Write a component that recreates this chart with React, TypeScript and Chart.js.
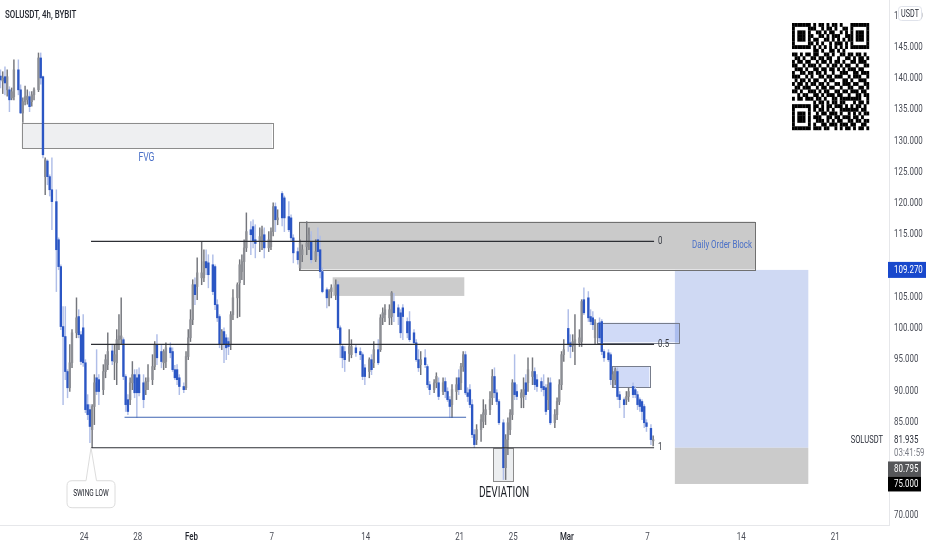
import React, { useEffect, useRef } from "react";
import Chart from "chart.js/auto";

const barSlots = [
  0,1,2,3,4,5,6,8,9,10,
  11,12,13,14,15,17,18,19,20,21,
  22,23,25,26,27,28,29,30,31,32,
  34,35,36,37,38,39,40,41,42,43,
  44,46,47,48,50,51,52,53,54,55,
  56,57,58,59,60,61,62,64,65,66,
  68,69,70,72,73,74,76,77,78,79,
  80,82,83,84,85,86,87,88,90,91,
  92,93,95,96,97,98,99,100,101,102,
  103,104,106,107,108,109,110,112,113,114,
  116,117,118,120,121,122,123,124,126,127,
  129,130,131,133,134,135,137,138,139,141,
  142,143,144,146,147,148,150,151,152,153,
  154,156,157,159,161,162,163,165,166,167,
  169,170,171,172,174,175,176,178,179,180,
  182,183,185,186,187,188,190,191,192,194,
  195,196,198,199,200,201,202,204,205,206,
  207,208,209,210,211,212,213,215,216,217,
  219,220,221,222,223,225,226,227,228,229,
  230,231,233,234,235,236,238,239,240,242,
  243,244,245,246,248,249,250,251,252,254,
  255,256,257,259,260,261,263,264,265,266,
  268,269,270,272,273,274,275,276,277,279,
  280,281,283,284,285,286,287,288,289,291,292,
];
const opens = [
  140.3,139.5,140.2,138.1,138.1,136.8,137,141.3,138.1,134.4,
  136.2,136.5,137,136.2,137.3,138.1,143.2,140.2,124.2,126.7,
  124.2,122.1,120.2,114.1,109.8,100.2,98.6,93,90.4,94.4,
  99.2,101.8,98.9,100,94.4,87.7,86.9,83.7,87.4,92,
  91.7,90.1,93,94.1,96.3,94.6,94.4,98.1,98.2,98.1,
  92.2,88.5,88.5,91.2,92.5,92,92.5,91.2,90.1,91.4,
  91.7,93.8,97.3,96.2,94.4,94.6,96.8,96.2,93.3,93.3,
  92,90.6,90.4,95.4,98.4,101.3,106.9,106.6,108,108,
  110.6,110.4,110.1,109.8,103.7,101.8,97.3,99.4,98.4,97.8,
  97.3,102.1,104.8,107.2,109,110.6,112.8,115.7,116.2,114.1,
  113.8,113.8,114.9,112.8,113,115.4,119.4,117.3,121.5,120.8,
  117.8,117.6,114.4,112.2,109.6,111.7,113,113.8,113.8,110.9,
  114.1,112.5,109,106.1,104.8,105.8,105.3,106.9,100,97,
  96.2,95.9,95.7,96.8,96.2,95.7,93.6,93,94.9,94.4,
  96.5,96.5,101.6,102.1,101.6,101.8,104.2,103.2,102.4,103.2,
  101,101,99.2,97.6,94.9,94.1,95.2,93.8,90.9,90.1,
  91.2,91.2,89.8,91.4,89.8,88.5,87.7,89.8,92,91.2,
  93.8,95.7,89.6,90.1,87.7,82.9,82.1,83.7,85,86.1,
  86.9,88.8,92.2,89.6,88.2,84.8,77.6,82.1,83.7,86.1,
  91.2,89.8,88.8,89,91.2,91.2,92.2,93,91.7,91.4,
  90.6,90.4,88.5,91.2,84.8,86.1,88.2,90.9,95.7,99.9,
  97.6,97.1,97.3,97.6,97.8,104.5,104.8,101.8,101.6,98.4,
  100.8,101,96.2,96,95.7,91.7,91.7,93,89.3,88.5,
  88.5,89,90.6,90.1,89.3,88.5,88.2,87.4,84.8,83.9,81.9,
];
const closes = [
  139.7,140,139.2,140.2,136.5,137.8,141.3,138.1,134.4,136.2,
  137,137.1,135.4,137.3,138.1,143.2,140,127.7,126.9,124.2,
  122.1,120.2,112.5,109.8,100.2,98.6,93,90.4,94.4,99.2,
  101.6,98.9,94.6,94.4,86.9,86.1,84.2,87.4,91.2,89.8,
  89.8,93,94.9,96.2,94.7,95.7,98.1,98.7,98.7,92.2,
  87.7,86.6,91.2,92.5,89.6,89.6,89.6,88.5,91.4,92,
  93.8,97.3,95.2,94.6,96.2,96.8,96,93.3,92,91.7,
  90.6,90.1,95.4,98.4,101.3,106.9,105.3,108.8,108.8,110.6,
  109.6,108.5,105.8,103.7,101.6,97.3,99.4,97.3,96.8,97,
  102.1,104.8,106.9,110.1,110.6,112.8,115.4,114.9,113.8,113.5,
  114.6,115.7,112.8,114.1,115.4,119.4,117.3,117.6,117.6,117.6,
  115.7,114.4,112,110.9,113.6,112.5,113.6,114.9,110.9,112.2,
  112.2,109,105.8,104.8,105.8,106.4,106.9,100,97.3,95.2,
  94.9,97,97,96,95.7,92.2,92.2,94.9,93.3,96.5,
  94.4,101.6,102.4,102.9,102.9,105.6,102.4,101.8,99.2,101.8,
  99.2,98.1,97.6,94.9,93.6,94.9,94.1,90.9,90.1,91.2,
  92.2,89,91.2,89.8,88.5,87.4,90.1,90.9,90.1,93.8,
  95.7,89.6,89,87.7,82.9,81.3,83.7,85.3,86.4,86.9,
  88.5,92.2,89.6,88.2,84.8,77.6,82.1,84.8,86.4,91.2,
  89.3,89,89.6,90.1,89.3,93.3,93,90.9,90.6,90.4,
  90.1,86.6,90.9,84.8,86.1,88.2,90.9,95.7,96.5,97.3,
  97,97.8,98.1,98.4,104.2,102.4,101.6,101,100.5,100.8,
  98.4,96.2,95.2,94.9,91.7,92.5,93.3,89,88.5,87.7,
  89,89.8,89.3,89.3,87.7,87.4,86.6,84.8,84.2,82.1,82.1,
];
const highs = [
  141.3,141,141.8,141.3,138.6,138.4,142.9,142.9,138.9,136.8,
  138.7,138.1,137.8,137.8,138.4,144,144,140.3,127.2,126.9,
  124.5,127.2,122.1,114.4,110.1,103.4,103.4,93.3,97.3,99.7,
  104.8,102.9,99.4,102.1,94.9,89.3,87.7,87.7,92.5,96.5,
  92.5,94.1,95.7,99.2,97.3,97.3,99.7,102.1,104.8,98.4,
  92.5,89.3,92,94.6,93.3,93.3,93.6,92.5,92,94.1,
  95.7,97.8,98.9,97.3,96.5,97.6,97.6,96.8,94,94.1,
  92.5,91.2,96.2,99.7,102.9,107.7,108,111.2,113.8,112.5,
  112.5,111.7,111.7,110.1,104.5,102.1,99.7,100,98.9,98.4,
  102.6,106.1,107.2,110.9,111.7,114.1,118.4,117,117.3,116.5,
  116,116.3,116,115.4,116,120,120,118.9,121.8,121.1,
  120.2,118.1,114.9,112.8,114.1,113.3,117,116,115.4,114.1,
  116,114.7,109.6,106.4,106.1,106.9,107.7,107.4,100.3,97.3,
  97,99.7,98.1,97.2,96.8,96,94.1,95.2,95.7,97.8,
  98.1,102.1,103.2,103.7,103.7,105.8,105.5,103.7,102.9,103.7,
  101.6,102.6,99.7,98.1,96.5,96.2,96.5,94.1,91.4,91.7,
  92.8,92,92,92,90.4,89,90.9,92,93.3,94.3,
  96.2,96.2,90.4,90.9,88.5,83.7,84.5,86.1,88.5,87.7,
  89.8,93.3,93.6,90.1,88.5,85.3,82.9,85.6,86.9,91.7,
  95.7,90.9,90.1,92,92.5,95.2,95.2,93.6,92.5,92,
  92.5,90.9,92,92,86.9,88.8,91.7,96.2,98.1,102.9,
  98.9,98.9,102.1,99.7,104.5,106.4,105.8,102.9,102.6,101.3,
  101.6,101.3,96.5,96.5,96,93,93.6,93.6,89.8,88.8,
  89.8,90.4,91.2,90.6,89.8,88.8,88.5,87.7,85.3,84.5,82.7,
];
const lows = [
  138.4,137.5,137.3,137.1,134.6,136.5,136.5,137.3,134.3,132.9,
  135.7,135.8,134.6,135.5,136.5,137.8,139,127.2,121.3,122.9,
  121.1,115.7,105.8,109.3,99.7,87.7,91.7,88.8,89.8,93.6,
  98.4,98.4,94.1,93.8,86.4,85.3,81.6,80.8,84.5,89.3,
  87.7,89.3,92,93.3,94.1,91.7,90.9,96.5,97.3,91.7,
  86.6,86.1,87.7,90.1,88.8,85.6,89.1,87.2,89.3,90.1,
  90.9,93.3,94.1,93.6,93.3,93.6,95.2,93,91.7,90.9,
  89.3,89.6,90.1,94.9,97.8,100.5,103.7,104.5,106.9,107.4,
  108.5,106.4,105.3,102.9,101,96.8,96.5,94.4,94.9,95.7,
  96.5,101.3,101.6,101.8,107.7,106.9,112.2,111.7,112.8,111.2,
  112.2,112.5,111.2,112.2,112.5,114.7,115.4,116.5,116.3,115.4,
  115.4,113.8,110.4,110.2,109.3,110.6,111.7,112.5,110.4,110.6,
  111.5,108,105.6,103.2,103.5,104.8,104.5,99.7,95.2,93.6,
  93,94.6,95.2,95.4,94.9,91.7,90.9,92,92.5,93.6,
  94.1,96.2,100.5,101,100.5,100.5,101,100.5,98.4,98.1,
  98.4,97.8,97.3,94.6,93,92.5,93.6,90.4,89.3,89.6,
  90.4,88.5,89.3,88.8,88.2,85.6,85.6,88.5,89.3,90.1,
  93,89.3,88.2,87.2,82.4,80.8,81.3,81.8,84,84.5,
  86.1,87.7,88.8,87.7,84.5,75.7,75.7,79.7,82.9,85.3,
  88.5,88.5,87.2,87.2,88.5,89.8,90.9,90.1,89.8,89.8,
  89.1,86.1,86.9,84.5,84,85.3,87.7,90.1,94.6,96.2,
  95.2,96.2,94.1,97,97,102.1,101,100.5,99.7,97.3,
  97.8,95.7,94.6,94.6,90.9,90.4,90.9,88.5,87.2,85.6,
  87.7,88.2,88.8,88.8,86.9,86.6,85.3,84,83.4,81.3,81.1,
];

const dateTickSlots = [37.4, 61.4, 85.4, 121.4, 163.4, 205.4, 229.4, 253.4, 289.4, 331.4, 373.4];
const dateTickLabels = ["24", "28", "Feb", "7", "14", "21", "25", "Mar", "7", "14", "21"];
const priceTicks = [70, 85, 90, 95, 100, 105, 115, 120, 125, 130, 135, 140, 145, 150];

// [startSlot, endSlot, topPrice, bottomPrice, fill, border]
const zones: [number, number, number, number, string, string | null][] = [
  [301.7, 361.4, 109.27, 80.795, "#cfd9f3", null],
  [301.7, 361.4, 80.795, 75.0, "#cbcbcb", null],
  [9.4, 121.5, 132.84, 128.79, "#eeeff1", "#8c8c8c"],
  [133.6, 337.6, 117.0, 109.34, "rgba(150,150,150,0.5)", "#707070"],
  [148.6, 207.5, 108.09, 105.1, "rgba(170,170,170,0.6)", null],
  [266.8, 303.5, 100.82, 97.68, "rgba(60,100,220,0.24)", "#777d8c"],
  [273.5, 290.3, 93.84, 90.42, "rgba(60,100,220,0.24)", "#777d8c"],
  [220.5, 229.5, 80.73, 75.37, "rgba(200,205,212,0.35)", "#8c8c8c"],
];
const fibLevels = [113.85, 97.36, 80.8];
const fibLabels = ["0", "0.5", "1"];
const fibStart = 40.5;
const fibEnd = 292.4;
const blueLevel = 85.68;
const blueStart = 55.5;
const blueEnd = 208.3;

const qrRows = [
  "11111110101101011010001111111",
  "10000011100101101001101000001",
  "10111010011010110010101011101",
  "10111011001101011100111011101",
  "10111010110011010101011011101",
  "10000011010100101110101000001",
  "11111110101010101010101111111",
  "00000000110100110101000000000",
  "11010110110011010011011011010",
  "01101001101101100100110101101",
  "10110110010110101101001101110",
  "11001011101001011010110010011",
  "01110100110110110101011101100",
  "10011011011010010011100110111",
  "11100101001101101110010111001",
  "01011010110010110001101001110",
  "10110101101101001101110110011",
  "01101110010110110010011001101",
  "11010011101011001101101110110",
  "00101100110101110110010011011",
  "10110111011010011011111111001",
  "00000000101101011011000101101",
  "11111110110101101110101011010",
  "10000010101101010011111110110",
  "10111010010110111010010101011",
  "10111010111001101101110110100",
  "10111010011101010110011011011",
  "10000010100110111011101100110",
  "11111110111011001010110101101",
];

const FONT = "Roboto, 'Liberation Sans', sans-serif";
const SQUEEZE = 0.72; // the reference's text is horizontally squashed
const UP_BODY = "#8d8f95";
const UP_WICK = "#74767c";
const DOWN_BODY = "#2b56c4";
const DOWN_WICK = "#b0bee8";

const overlays = {
  id: "overlays",
  beforeDatasetsDraw(chart: any) {
    const { ctx, scales } = chart;
    const { x, y } = scales;
    for (const [a, b, t, m, fill, border] of zones) {
      const px = x.getPixelForValue(a);
      const py = y.getPixelForValue(t);
      const w = x.getPixelForValue(b) - px;
      const h = y.getPixelForValue(m) - py;
      ctx.fillStyle = fill;
      ctx.fillRect(px, py, w, h);
      if (border) {
        ctx.strokeStyle = border;
        ctx.lineWidth = 1;
        ctx.strokeRect(Math.round(px) + 0.5, Math.round(py) + 0.5, Math.round(w), Math.round(h));
      }
    }
  },
  afterDraw(chart: any) {
    const { ctx, scales } = chart;
    const { x, y } = scales;
    const text = (s: string, px: number, py: number, font: string, color: string, align: CanvasTextAlign = "left") => {
      ctx.save();
      ctx.translate(px, py);
      ctx.scale(SQUEEZE, 1);
      ctx.font = font;
      ctx.fillStyle = color;
      ctx.textAlign = align;
      ctx.textBaseline = "middle";
      ctx.fillText(s, 0, 0);
      ctx.restore();
    };
    ctx.save();
    text("SOLUSDT, 4h, BYBIT", 5, 15, `500 11px ${FONT}`, "#22252e");
    text("FVG", x.getPixelForValue(65.3), y.getPixelForValue(127.19), `12px ${FONT}`, "#4a70c8", "center");
    text("Daily Order Block", x.getPixelForValue(322.8), y.getPixelForValue(113.18), `11px ${FONT}`, "#4a70c8", "center");
    text("DEVIATION", x.getPixelForValue(225.3), y.getPixelForValue(73.4), `14px ${FONT}`, "#1c1f26", "center");
    fibLevels.forEach((v, i) => {
      text(fibLabels[i], x.getPixelForValue(294.2), y.getPixelForValue(v), `11px ${FONT}`, "#3a3d45");
    });

    // axis labels, squashed like the reference's
    y.ticks.forEach((t: any, i: number) => {
      text(t.label, 894, y.getPixelForTick(i) + 0.5, `11px ${FONT}`, "#4a4d57");
    });
    x.ticks.forEach((t: any, i: number) => {
      const strong = t.label === "Feb" || t.label === "Mar";
      text(t.label, x.getPixelForTick(i), 537.5, `${strong ? 500 : 400} 11px ${FONT}`, strong ? "#22252e" : "#4a4d57", "center");
    });

    // SWING LOW callout, hung from the swing-low level
    const cx = x.getPixelForValue(fibStart);
    const tip = y.getPixelForValue(fibLevels[2]);
    ctx.beginPath();
    ctx.moveTo(cx - 5, tip + 33);
    ctx.lineTo(cx, tip);
    ctx.lineTo(cx + 5.5, tip + 33);
    ctx.lineTo(cx + 19, tip + 33);
    ctx.quadraticCurveTo(cx + 24, tip + 33, cx + 24, tip + 38);
    ctx.lineTo(cx + 24, tip + 55);
    ctx.quadraticCurveTo(cx + 24, tip + 60, cx + 19, tip + 60);
    ctx.lineTo(cx - 19, tip + 60);
    ctx.quadraticCurveTo(cx - 24, tip + 60, cx - 24, tip + 55);
    ctx.lineTo(cx - 24, tip + 38);
    ctx.quadraticCurveTo(cx - 24, tip + 33, cx - 19, tip + 33);
    ctx.closePath();
    ctx.fillStyle = "#fff";
    ctx.fill();
    ctx.strokeStyle = "#dcdcdc";
    ctx.lineWidth = 1;
    ctx.stroke();
    text("SWING LOW", cx, tip + 46.5, `9px ${FONT}`, "#22252e", "center");

    // QR code
    ctx.fillStyle = "#000";
    const qw = 77 / qrRows[0].length;
    const qh = 107 / qrRows.length;
    qrRows.forEach((row, r) => {
      for (let c = 0; c < row.length; c++) {
        if (row[c] === "1") ctx.fillRect(792 + c * qw, 23 + r * qh, qw + 0.2, qh + 0.2);
      }
    });

    // Price tags
    const tag = (s: string, v: number, w: number, h: number, bg: string) => {
      const py = y.getPixelForValue(v);
      ctx.fillStyle = bg;
      ctx.fillRect(888, py - h / 2, w, h);
      text(s, 894, py + 0.5, `11px ${FONT}`, "#fff");
    };
    tag("109.270", 109.27, 38, 16, "#1848cc");
    tag("80.795", 77.4, 33, 15, "#555659");
    tag("75.000", 75.0, 33, 15, "#000");
    const lastY = y.getPixelForValue(81.935);
    text("81.935", 894, lastY, `11px ${FONT}`, "#2a2e39");
    text("SOLUSDT", 883, lastY, `10.5px ${FONT}`, "#2a2e39", "right");
    text("03:41:59", 894, lastY + 12.5, `11px ${FONT}`, "#7b7e87");

    // USDT unit button
    ctx.beginPath();
    ctx.roundRect(898.5, 6.5, 23, 14, 3);
    ctx.fillStyle = "#fff";
    ctx.fill();
    ctx.strokeStyle = "#e0e3eb";
    ctx.stroke();
    text("USDT", 910, 14, `10px ${FONT}`, "#2a2e39", "center");
    ctx.restore();
  },
};

export default function App() {
  const ref = useRef<HTMLCanvasElement>(null);
  useEffect(() => {
    if (!ref.current) return;
    const isUp = (i: number) => closes[i] >= opens[i];
    const wickData = barSlots.map((s, i) => ({ x: s, y: [lows[i], highs[i]] }));
    const bodyData = barSlots.map((s, i) => ({ x: s, y: [Math.min(opens[i], closes[i]), Math.max(opens[i], closes[i])] }));
    const hline = (v: number, a: number, b: number) => [{ x: a, y: v }, { x: b, y: v }];
    const chart = new Chart(ref.current, {
      type: "bar",
      data: {
        datasets: [
          ...fibLevels.map((v) => ({
            type: "line" as const,
            data: hline(v, fibStart, fibEnd),
            borderColor: "#2d2f34",
            borderWidth: 1.2,
            pointRadius: 0,
            order: 0,
          })),
          {
            type: "line" as const,
            data: hline(blueLevel, blueStart, blueEnd),
            borderColor: "#3f64b2",
            borderWidth: 1,
            pointRadius: 0,
            order: 0,
          },
          {
            type: "bar" as const,
            data: bodyData,
            barThickness: 1.7,
            grouped: false,
            backgroundColor: (c: any) => (isUp(c.dataIndex) ? UP_BODY : DOWN_BODY),
            order: 1,
          },
          {
            type: "bar" as const,
            data: wickData,
            barThickness: 0.8,
            grouped: false,
            backgroundColor: (c: any) => (isUp(c.dataIndex) ? UP_WICK : DOWN_WICK),
            order: 2,
          },
        ],
      } as any,
      options: {
        responsive: false,
        animation: false,
        devicePixelRatio: 1,
        layout: { padding: 0, autoPadding: false },
        plugins: { legend: { display: false }, tooltip: { enabled: false } },
        scales: {
          x: {
            type: "linear",
            offset: false,
            min: -0.22,
            max: 397.5,
            grid: { display: false, drawTicks: false },
            border: { display: true, color: "#e6e7ea" },
            afterBuildTicks: (s: any) => {
              s.ticks = dateTickSlots.map((value) => ({ value }));
            },
            afterFit: (s: any) => {
              s.height = 25;
            },
            ticks: {
              display: false,
              autoSkip: false,
              maxRotation: 0,
              callback: (_v: any, i: number) => dateTickLabels[i],
            },
          },
          y: {
            type: "linear",
            position: "right",
            min: 68.43,
            max: 152.48,
            grid: { display: false, drawTicks: false },
            border: { display: true, color: "#e6e7ea" },
            afterBuildTicks: (s: any) => {
              s.ticks = priceTicks.map((value) => ({ value }));
            },
            afterFit: (s: any) => {
              s.width = 43;
            },
            ticks: {
              display: false,
              autoSkip: false,
              callback: (v: any) => Number(v).toFixed(3),
            },
          },
        },
      },
      plugins: [overlays],
    } as any);
    return () => chart.destroy();
  }, []);
  return (
    <div style={{ position: "fixed", left: 0, top: 0, width: 932, height: 550, background: "#fff" }}>
      <canvas ref={ref} width={932} height={550} style={{ display: "block", filter: "blur(0.35px)" }} />
    </div>
  );
}
